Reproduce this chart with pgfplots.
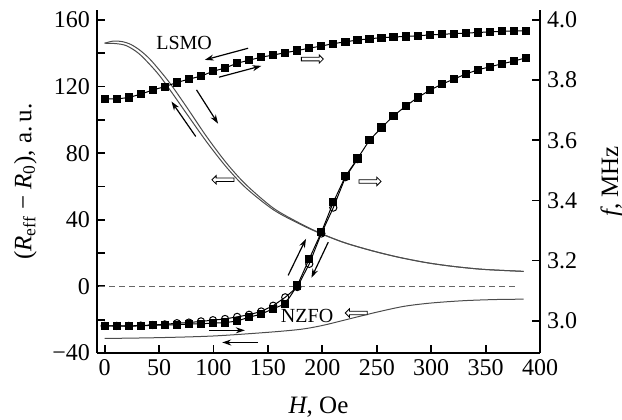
\documentclass[border=0pt]{standalone}
\usepackage{fontspec}
\setmainfont{Liberation Serif}
\usepackage{pgfplots}
\pgfplotsset{compat=1.18}
\usetikzlibrary{arrows.meta,shapes.arrows}

\pgfplotsset{
  base/.style={
    width=221.5pt, height=171.5pt, scale only axis,
    xmin=-7, xmax=400,
    clip=false,
    tick align=inside,
    major tick length=4pt, minor tick length=4pt,
    every tick/.style={black, line width=0.9pt},
    axis line style={line width=1pt},
    tick label style={font=\fontsize{12}{14}\selectfont},
    label style={font=\fontsize{12.5}{14}\selectfont},
  },
  sqf/.style={black, line width=0.5pt, mark=square*, mark size=1.8pt, mark options={solid, fill=black}},
  circo/.style={black, line width=0.5pt, mark=o, mark size=1.8pt, mark options={solid, fill=white}},
  rline/.style={black!70, line width=0.5pt, smooth, no marks},
}
\tikzset{
  arr/.style={line width=0.6pt, -{Stealth[length=4.5pt,width=3pt]}},
  oarr/.style={single arrow, draw, fill=white, line width=0.4pt, minimum height=11pt,
    minimum width=4.2pt, inner sep=0.7pt, single arrow head extend=1.2pt},
}

\begin{document}
\begin{tikzpicture}
\begin{axis}[base,
  axis x line*=bottom, axis y line*=left,
  ymin=-40, ymax=166,
  xtick={0,50,100,150,200,250,300,350,400},
  xticklabels={0,50,100,150,200,250,300,350,400},
  ytick={-40,0,40,80,120,160},
  yticklabels={−40,0,40,80,120,160},
  minor ytick={-20,20,60,100,140},
  xlabel={\textit{H}, Oe},
  xlabel style={at={(axis description cs:0.5,-0.157)}, anchor=center},
  ylabel={(\textit{R}\textsubscript{eff} − \textit{R}\textsubscript{0}), a.\,u.},
  ylabel style={at={(axis description cs:-0.162,0.5)}, anchor=center},
]
% page frame like the reference
\coordinate (frameBL) at (axis description cs:-0.219,-0.195);
\coordinate (frameTR) at (axis description cs:1.185,1.029);
% zero line
\addplot[black!60, dashed, dash pattern=on 3pt off 2pt, line width=0.5pt] coordinates {(-5,0) (378,0)};
% LSMO R, two sweeps
\addplot[rline] coordinates {
  (0,146) (8,147.3) (16,147) (24,145.3) (32,142) (40,137.5) (47.6,132) (60,122) (75,108)
  (93.6,90) (112,74) (130,61) (155,47) (179,38) (198,32) (220,26.3) (245,21.5) (270,17.5)
  (296,14.2) (320,12) (348,10.2) (385,9)
};
\addplot[rline] coordinates {
  (0,146) (10,145.8) (20,144.5) (32,139.5) (48,128.5) (60,118) (75,104) (94,86.5)
  (112,71.5) (130,59) (155,46) (179,37.5) (198,31.8) (220,26.3) (245,21.5) (270,17.5)
  (296,14.2) (320,12) (348,10.2) (385,9)
};
% NZFO R
\addplot[rline] coordinates {
  (0,-31.3) (50,-30.8) (100,-29.8) (150,-27.6) (180,-25.8) (200,-23.5) (225,-19.5)
  (250,-15.5) (275,-12) (300,-10) (330,-8.6) (360,-7.9) (385,-7.7)
};
% annotations
\draw[arr] (axis cs:131.8,143) -- (axis cs:92,136);
\draw[arr] (axis cs:105,125.6) -- (axis cs:144,132.4);
\draw[arr] (axis cs:84.4,118) -- (axis cs:104.2,97.7);
\draw[arr] (axis cs:83.7,90) -- (axis cs:61.4,111);
\draw[arr] (axis cs:96,-26.4) -- (axis cs:128.8,-26.4);
\draw[arr] (axis cs:141,-33.7) -- (axis cs:108,-33.7);
\draw[arr] (axis cs:168.6,6.6) -- (axis cs:185,28.6);
\draw[arr] (axis cs:205.4,26.5) -- (axis cs:190,5.2);
\node[oarr] at (axis cs:190,136.5) {};
\node[oarr, shape border rotate=180] at (axis cs:109.5,64) {};
\node[oarr] at (axis cs:243,63) {};
\node[oarr, shape border rotate=180] at (axis cs:232,-16) {};
\node[font=\fontsize{10}{12}\selectfont] at (axis cs:73,146) {LSMO};
\node[font=\fontsize{10}{12}\selectfont] at (axis cs:186,-17.7) {NZFO};
\end{axis}

\begin{axis}[base,
  axis y line*=right, hide x axis,
  ymin=2.893, ymax=4.033,
  ytick={3,3.2,3.4,3.6,3.8,4},
  yticklabels={3.0,3.2,3.4,3.6,3.8,4.0},
  ylabel={\textit{f}, MHz},
  ylabel style={at={(axis description cs:1.1625,0.5)}, anchor=center},
]
% NZFO f, decreasing sweep (open circles)
\addplot[circo] coordinates {
  (0,2.983) (11.1,2.983) (22.1,2.983) (33.2,2.984) (44.2,2.986) (55.3,2.988) (66.4,2.992)
  (77.4,2.994) (88.5,2.998) (99.5,3.002) (110.6,3.006) (121.7,3.013) (132.7,3.020)
  (143.8,3.031) (154.8,3.050) (165.9,3.078) (177.0,3.112) (188.0,3.189) (199.1,3.290)
  (210.1,3.376) (221.2,3.477) (232.3,3.537)
};
% NZFO f, increasing sweep
\addplot[sqf] coordinates {
  (0,2.983) (11.1,2.983) (22.1,2.982) (33.2,2.983) (44.2,2.985) (55.3,2.986) (66.4,2.987)
  (77.4,2.989) (88.5,2.990) (99.5,2.992) (110.6,2.994) (121.7,2.999) (132.7,3.012)
  (143.8,3.022) (154.8,3.040) (165.9,3.056) (177.0,3.117) (188.0,3.206) (199.1,3.294)
  (210.1,3.394) (221.2,3.480) (232.3,3.539) (243.3,3.600) (254.4,3.642) (265.4,3.681)
  (276.5,3.713) (287.6,3.742) (298.6,3.766) (309.7,3.786) (320.7,3.803) (331.8,3.820)
  (342.9,3.834) (353.9,3.844) (365.0,3.854) (376.0,3.863) (387.1,3.874)
};
% LSMO f
\addplot[sqf] coordinates {
  (0,3.738) (11.1,3.737) (22.1,3.742) (33.2,3.753) (44.2,3.767) (55.3,3.778) (66.4,3.792)
  (77.4,3.803) (88.5,3.813) (99.5,3.829) (110.6,3.840) (121.7,3.856) (132.7,3.866)
  (143.8,3.876) (154.8,3.883) (165.9,3.891) (177.0,3.898) (188.0,3.906) (199.1,3.913)
  (210.1,3.921) (221.2,3.927) (232.3,3.933) (243.3,3.937) (254.4,3.941) (265.4,3.943)
  (276.5,3.945) (287.6,3.947) (298.6,3.950) (309.7,3.952) (320.7,3.954) (331.8,3.956)
  (342.9,3.958) (353.9,3.960) (365.0,3.962) (376.0,3.963) (387.1,3.964)
};
\end{axis}
\pgfresetboundingbox
\path (frameBL) rectangle (frameTR);
\end{tikzpicture}
\end{document}
